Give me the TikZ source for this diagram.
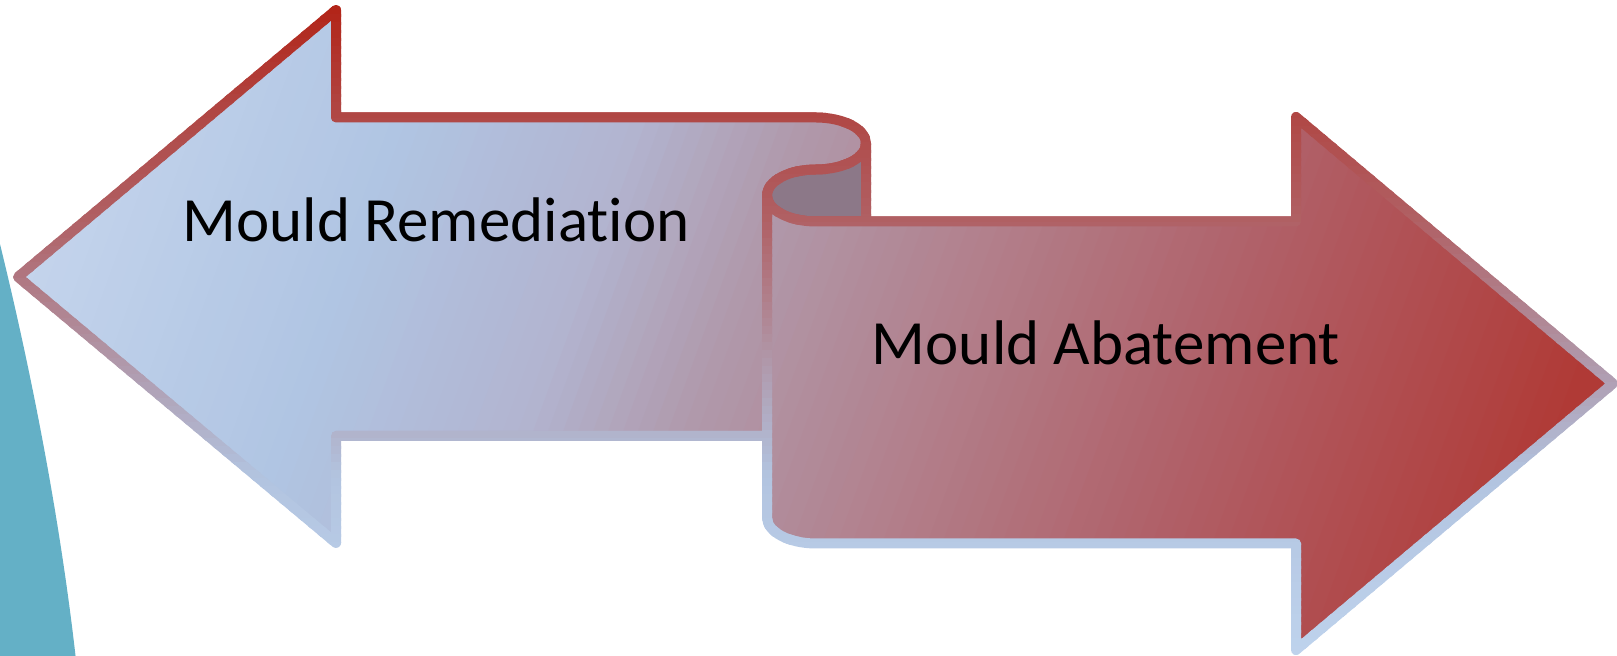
\documentclass[tikz,border=0pt]{standalone}
\usepackage{fontspec}
\setmainfont{Carlito}[Ligatures={NoCommon,NoRequired,NoContextual}]
\definecolor{tealside}{RGB}{100,176,198}
\definecolor{curlback}{RGB}{140,120,136}
% fill gradient stops (along slanted axis u)
\definecolor{f0}{RGB}{196,212,236}
\definecolor{f1}{RGB}{176,197,227}
\definecolor{f2}{RGB}{178,180,208}
\definecolor{f3}{RGB}{176,154,172}
\definecolor{f4}{RGB}{178,128,140}
\definecolor{f5}{RGB}{176,96,104}
\definecolor{f6}{RGB}{176,58,54}
% stroke gradient stops (along y)
\definecolor{s0}{RGB}{178,36,24}
\definecolor{s1}{RGB}{176,72,70}
\definecolor{s2}{RGB}{176,96,100}
\definecolor{s3}{RGB}{176,160,180}
\definecolor{s4}{RGB}{178,196,224}
\definecolor{s5}{RGB}{190,210,236}
\newcommand\setfc[1]{%
 \pgfmathsetmacro\myuu{#1}%
 \ifdim\myuu pt<320pt \pgfmathsetmacro\mypp{max(0,\myuu/320*100)}\colorlet{fc}{f1!\mypp!f0}%
 \else\ifdim\myuu pt<560pt \pgfmathsetmacro\mypp{(\myuu-320)/240*100}\colorlet{fc}{f2!\mypp!f1}%
 \else\ifdim\myuu pt<720pt \pgfmathsetmacro\mypp{(\myuu-560)/160*100}\colorlet{fc}{f3!\mypp!f2}%
 \else\ifdim\myuu pt<950pt \pgfmathsetmacro\mypp{(\myuu-720)/230*100}\colorlet{fc}{f4!\mypp!f3}%
 \else\ifdim\myuu pt<1230pt \pgfmathsetmacro\mypp{(\myuu-950)/280*100}\colorlet{fc}{f5!\mypp!f4}%
 \else \pgfmathsetmacro\mypp{min(100,(\myuu-1230)/370*100)}\colorlet{fc}{f6!\mypp!f5}%
 \fi\fi\fi\fi\fi}
\newcommand\setsc[1]{%
 \pgfmathsetmacro\myvv{#1}%
 \ifdim\myvv pt<120pt \pgfmathsetmacro\mypp{max(0,min(100,(\myvv-10)/110*100))}\colorlet{sc}{s1!\mypp!s0}%
 \else\ifdim\myvv pt<222pt \pgfmathsetmacro\mypp{(\myvv-120)/102*100}\colorlet{sc}{s2!\mypp!s1}%
 \else\ifdim\myvv pt<384pt \pgfmathsetmacro\mypp{(\myvv-222)/162*100}\colorlet{sc}{s3!\mypp!s2}%
 \else\ifdim\myvv pt<480pt \pgfmathsetmacro\mypp{(\myvv-384)/96*100}\colorlet{sc}{s4!\mypp!s3}%
 \else \pgfmathsetmacro\mypp{min(100,(\myvv-480)/170*100)}\colorlet{sc}{s5!\mypp!s4}%
 \fi\fi\fi\fi}
\def\leftpath{(18,277) -- (336,10) -- (336,117.5) -- (816,117.5)
  .. controls (843.6,117.5) and (866,129.1) .. (866,143.5)
  .. controls (866,157.9) and (843.6,169.5) .. (816,169.5)
  .. controls (788.9,169.5) and (767,181.1) .. (767,195.5)
  -- (767,436) -- (336,436) -- (336,543) -- cycle}
\def\backpath{(866,143.5)
  .. controls (866,157.9) and (843.6,169.5) .. (816,169.5)
  .. controls (788.9,169.5) and (767,181.1) .. (767,195.5)
  .. controls (767,209.9) and (788.9,221.5) .. (816,221.5)
  -- (866,221.5) -- cycle}
\def\rightpath{(767,195.5)
  .. controls (767,209.9) and (788.9,221.5) .. (816,221.5)
  -- (1296,221.5) -- (1296,117) -- (1613,383.5) -- (1296,650) -- (1296,543.5) -- (816,543.5)
  .. controls (788.9,543.5) and (767,531.9) .. (767,517.5) -- cycle}
\tikzset{outline/.style={line width=5pt, line join=round},
  label/.style={font=\fontsize{31.5}{38}\selectfont, anchor=base, text=black}}
\begin{document}
\begin{tikzpicture}[x=0.5pt,y=-0.5pt]
\clip (0,0) rectangle (1617,656);
% teal shape at left edge
\fill[tealside] (-2,236) .. controls (25,345) and (58,500) .. (76,660) -- (-2,660) -- cycle;
% left arrow fill
\begin{scope}
  \clip \leftpath;
  \foreach \u in {-150,-135,...,900} {
    \setfc{\u+7.5}
    \fill[fc] (\u+127.4,-20) -- (\u+143.4,-20) -- (\u-111.4,680) -- (\u-127.4,680) -- cycle;
  }
\end{scope}
% left arrow stroke
\foreach \i in {0,...,82} {
  \pgfmathsetmacro\ya{\i*8}
  \setsc{\ya+4}
  \begin{scope}
    \clip (-10,\ya-1) rectangle (1630,\ya+9);
    \draw[sc, outline] \leftpath;
  \end{scope}
}
% back of the curl
\fill[curlback] \backpath;
\foreach \i in {13,...,29} {
  \pgfmathsetmacro\ya{\i*8}
  \setsc{\ya+4}
  \begin{scope}
    \clip (-10,\ya-1) rectangle (1630,\ya+9);
    \draw[sc, outline] \backpath;
  \end{scope}
}
% right arrow fill
\begin{scope}
  \clip \rightpath;
  \foreach \u in {690,705,...,1680} {
    \setfc{\u+7.5}
    \fill[fc] (\u+127.4,-20) -- (\u+143.4,-20) -- (\u-111.4,680) -- (\u-127.4,680) -- cycle;
  }
\end{scope}
% right arrow stroke
\foreach \i in {0,...,82} {
  \pgfmathsetmacro\ya{\i*8}
  \setsc{\ya+4}
  \begin{scope}
    \clip (-10,\ya-1) rectangle (1630,\ya+9);
    \draw[sc, outline] \rightpath;
  \end{scope}
}
\node[label] (remed) at (436,242) {Mould Remediation};
\node[label] (abate) at (1106,365) {Mould Abatement};
\end{tikzpicture}
\end{document}
